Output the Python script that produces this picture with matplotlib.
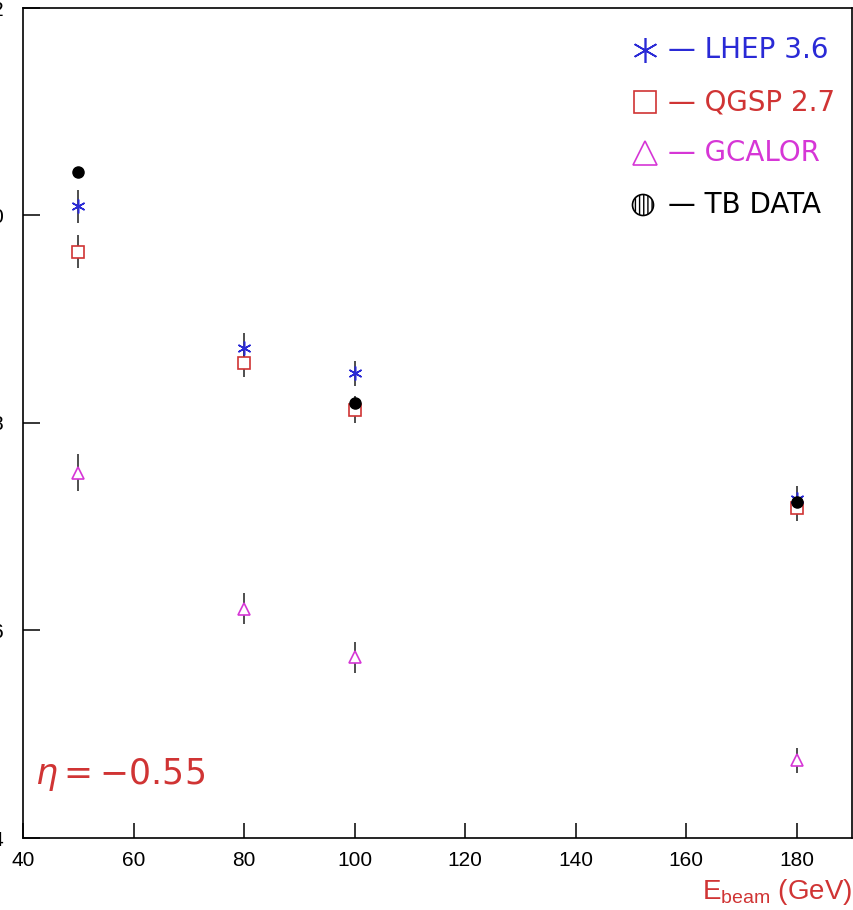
"""Pion response vs beam energy at eta = -0.55, MC physics lists vs test beam"""

import matplotlib.pyplot as plt
from matplotlib.patches import Circle

plt.rcParams['font.family'] = ['Liberation Sans', 'DejaVu Sans']

e_beam = [50, 80, 100, 180]

lhep = [0.8009, 0.7872, 0.7848, 0.7727]
lhep_err = [0.0016, 0.0015, 0.0012, 0.0012]

qgsp = [0.7965, 0.7858, 0.7813, 0.7718]
qgsp_err = [0.0016, 0.0014, 0.0013, 0.0012]

gcalor = [0.7752, 0.7621, 0.7574, 0.7475]
gcalor_err = [0.0018, 0.0015, 0.0015, 0.0012]

tb_e = [50, 100, 180]
tb_data = [0.8042, 0.7819, 0.7724]
tb_err = [0.0005, 0.0005, 0.0005]

y_ticks = [0.74, 0.76, 0.78, 0.80, 0.82]
x_ticks = [40, 60, 80, 100, 120, 140, 160, 180]

blue = '#2a2ad6'
red = '#d03434'
magenta = '#d636d6'
bar_col = '#303030'

fig = plt.figure(figsize=(8.54, 9.10), dpi=100)
ax = fig.add_axes([23 / 854, 1 - 838 / 910, 829 / 854, 830 / 910])

common = dict(ls='none', ecolor=bar_col, elinewidth=1.2, capsize=0)
ax.errorbar(e_beam, gcalor, yerr=gcalor_err, marker='^', ms=8.5, mfc='white',
            mec=magenta, mew=1.2, **common)
ax.errorbar(e_beam, qgsp, yerr=qgsp_err, marker='s', ms=8.0, mfc='white',
            mec=red, mew=1.2, **common)
ax.errorbar(e_beam, lhep, yerr=lhep_err, marker=(6, 2, 0), ms=10, mec=blue,
            mew=1.1, **common)
ax.errorbar(tb_e, tb_data, yerr=tb_err, marker='o', ms=8, mfc='black',
            mec='black', **common)

ax.set_xlim(40, 190)
ax.set_ylim(0.74, 0.82)
ax.set_xticks(x_ticks)
ax.set_yticks(y_ticks)
ax.set_yticklabels(['%.2f' % v for v in y_ticks])
ax.tick_params(axis='x', direction='in', length=11, width=1.1, pad=9,
               labelsize=15, top=False)
ax.tick_params(axis='y', direction='in', length=12, width=1.1, pad=14,
               labelsize=15, right=False)
for s in ax.spines.values():
    s.set_linewidth(1.2)

# legend drawn by hand, PAW style
def to_ax(px, py):
    return (px - 23) / 829, (838 - py) / 830

legend = [
    ('LHEP 3.6', blue, (6, 2, 0), 18, 50),
    ('QGSP 2.7', red, 's', 15.5, 102),
    ('GCALOR', magenta, '^', 17, 153),
]
for label, col, mk, size, py in legend:
    mx, my = to_ax(645, py)
    ax.plot([mx], [my], marker=mk, ms=size, mfc='white', mec=col, mew=1.2,
            ls='none', transform=ax.transAxes, clip_on=False)
    tx, ty = to_ax(668, py)
    ax.text(tx, ty, '\u2014 ' + label, color=col, fontsize=20,
            family='DejaVu Sans', ha='left', va='center',
            transform=ax.transAxes)

cx, cy = to_ax(643, 205)
ax.add_patch(Circle((cx, cy), 10.5 / 829, transform=ax.transAxes,
                    facecolor='white', edgecolor='black', lw=1.2,
                    hatch='||||'))
tx, ty = to_ax(668, 205)
ax.text(tx, ty, '\u2014 TB DATA', color='black', fontsize=20,
        family='DejaVu Sans', ha='left', va='center', transform=ax.transAxes)

ax.text(0.014, 0.076, r'$\eta = -0.55$', color=red, fontsize=25,
        ha='left', va='center', transform=ax.transAxes)

fig.text(852 / 854, 1 - 892 / 910, r'$\mathregular{E_{beam}}$ (GeV)',
         color=red, fontsize=20, ha='right', va='center')

plt.savefig('out.png', dpi=100)
plt.close()
